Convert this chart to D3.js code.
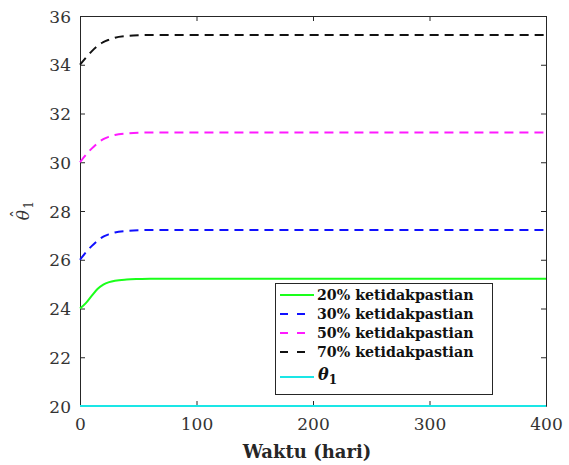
<!DOCTYPE html>
<html>
<head>
<meta charset="utf-8">
<script src="https://cdn.jsdelivr.net/npm/d3@7"></script>
<style>
  html, body { margin: 0; padding: 0; background: #fff; }
  svg { display: block; }
</style>
</head>
<body>
<svg id="chart" width="569" height="465"></svg>
<script>
// Time samples (days)
const days = [0, 5, 10, 15, 20, 25, 30, 40, 50, 60, 80, 100, 150, 200, 250, 300, 350, 400];

// Estimated parameter for each uncertainty level
const est20 = [24.00, 24.22, 24.52, 24.80, 24.98, 25.08, 25.14, 25.19, 25.21, 25.22, 25.22, 25.22, 25.22, 25.22, 25.22, 25.22, 25.22, 25.22];
const est30 = [26.00, 26.30, 26.56, 26.78, 26.95, 27.05, 27.12, 27.18, 27.21, 27.22, 27.22, 27.22, 27.22, 27.22, 27.22, 27.22, 27.22, 27.22];
const est50 = [30.00, 30.30, 30.56, 30.78, 30.95, 31.05, 31.12, 31.18, 31.21, 31.22, 31.22, 31.22, 31.22, 31.22, 31.22, 31.22, 31.22, 31.22];
const est70 = [34.00, 34.29, 34.55, 34.77, 34.93, 35.03, 35.11, 35.18, 35.21, 35.22, 35.22, 35.22, 35.22, 35.22, 35.22, 35.22, 35.22, 35.22];
// True parameter value
const trueVal = [20, 20, 20, 20, 20, 20, 20, 20, 20, 20, 20, 20, 20, 20, 20, 20, 20, 20];

const seriesNames = ["20% ketidakpastian", "30% ketidakpastian", "50% ketidakpastian", "70% ketidakpastian"];
const xTicks = [0, 100, 200, 300, 400];
const yTicks = [20, 22, 24, 26, 28, 30, 32, 34, 36];

const svg = d3.select("#chart");
const L = 80, R = 546, T = 16, B = 406;
const x = d3.scaleLinear().domain([0, 400]).range([L, R]);
const y = d3.scaleLinear().domain([20, 36]).range([B, T]);

const axisColor = "#262626";
const tickFont = "'DejaVu Serif', serif";

// Axes with inward ticks, box on all sides
const gx = svg.append("g").attr("transform", `translate(0,${B})`)
  .call(d3.axisBottom(x).tickValues(xTicks).tickSizeInner(-5).tickSizeOuter(0).tickPadding(9));
const gxTop = svg.append("g").attr("transform", `translate(0,${T})`)
  .call(d3.axisTop(x).tickValues(xTicks).tickSizeInner(-5).tickSizeOuter(0).tickFormat(""));
const gy = svg.append("g").attr("transform", `translate(${L},0)`)
  .call(d3.axisLeft(y).tickValues(yTicks).tickSizeInner(-5).tickSizeOuter(0).tickPadding(9));
const gyR = svg.append("g").attr("transform", `translate(${R},0)`)
  .call(d3.axisRight(y).tickValues(yTicks).tickSizeInner(-5).tickSizeOuter(0).tickFormat(""));

[gx, gxTop, gy, gyR].forEach(g => {
  g.select(".domain").attr("stroke", axisColor).attr("stroke-width", 1);
  g.selectAll(".tick line").attr("stroke", axisColor).attr("stroke-width", 1);
  g.selectAll(".tick text").attr("fill", "#333").style("font-family", tickFont).style("font-size", "17px");
});
gx.selectAll(".tick text").attr("dy", "0.9em");
gy.selectAll(".tick text").attr("dy", "0.36em");

const line = d3.line().x((d, i) => x(days[i])).y(d => y(d)).curve(d3.curveMonotoneX);

const series = [
  { data: est20, color: "#1aff1a", dash: null },
  { data: est30, color: "#1010ff", dash: "9,6" },
  { data: est50, color: "#ff1aff", dash: "9,6" },
  { data: est70, color: "#111111", dash: "9,6" },
  { data: trueVal, color: "#1ae6e6", dash: null }
];

const plot = svg.append("g");
series.forEach(s => {
  plot.append("path").datum(s.data)
    .attr("d", line)
    .attr("fill", "none")
    .attr("stroke", s.color)
    .attr("stroke-width", 2)
    .attr("stroke-dasharray", s.dash);
});

// Legend
const lg = svg.append("g");
lg.append("rect").attr("x", 275.5).attr("y", 283.5).attr("width", 217).attr("height", 111)
  .attr("fill", "#fff").attr("stroke", axisColor).attr("stroke-width", 1);
const legendRows = [295, 314, 333, 352, 377];
const labelFont = "'DejaVu Serif', serif";
series.forEach((s, i) => {
  const ry = legendRows[i];
  lg.append("line").attr("x1", 280).attr("x2", 314).attr("y1", ry).attr("y2", ry)
    .attr("stroke", s.color).attr("stroke-width", 2).attr("stroke-dasharray", s.dash ? "8,9" : null);
  if (i < 4) {
    lg.append("text").attr("x", 317).attr("y", ry).attr("dy", "0.35em")
      .style("font-family", labelFont).style("font-weight", "bold").style("font-size", "14.2px")
      .attr("fill", "#111").text(seriesNames[i]);
  } else {
    const t = lg.append("text").attr("x", 318).attr("y", ry).attr("dy", "0.2em")
      .style("font-family", labelFont).style("font-weight", "bold").style("font-size", "16px")
      .attr("fill", "#111");
    t.append("tspan").style("font-style", "italic").text("θ");
    t.append("tspan").attr("dy", "0.35em").style("font-size", "12px").text("1");
  }
});

// Axis titles
svg.append("text").attr("x", 307).attr("y", 458)
  .attr("text-anchor", "middle")
  .style("font-family", labelFont).style("font-weight", "bold").style("font-size", "18px")
  .attr("fill", axisColor).text("Waktu (hari)");

const yl = svg.append("g").attr("transform", "translate(29,212) rotate(-90)")
  .style("font-family", tickFont).attr("fill", "#333");
yl.append("text").attr("x", -3).attr("y", 0).attr("text-anchor", "middle")
  .style("font-size", "17px").style("font-style", "italic").text("θ");
yl.append("text").attr("x", -2).attr("y", -6).attr("text-anchor", "middle")
  .style("font-size", "16px").text("ˆ");
yl.append("text").attr("x", 7).attr("y", 4).attr("text-anchor", "middle")
  .style("font-size", "12px").text("1");
</script>
</body>
</html>
